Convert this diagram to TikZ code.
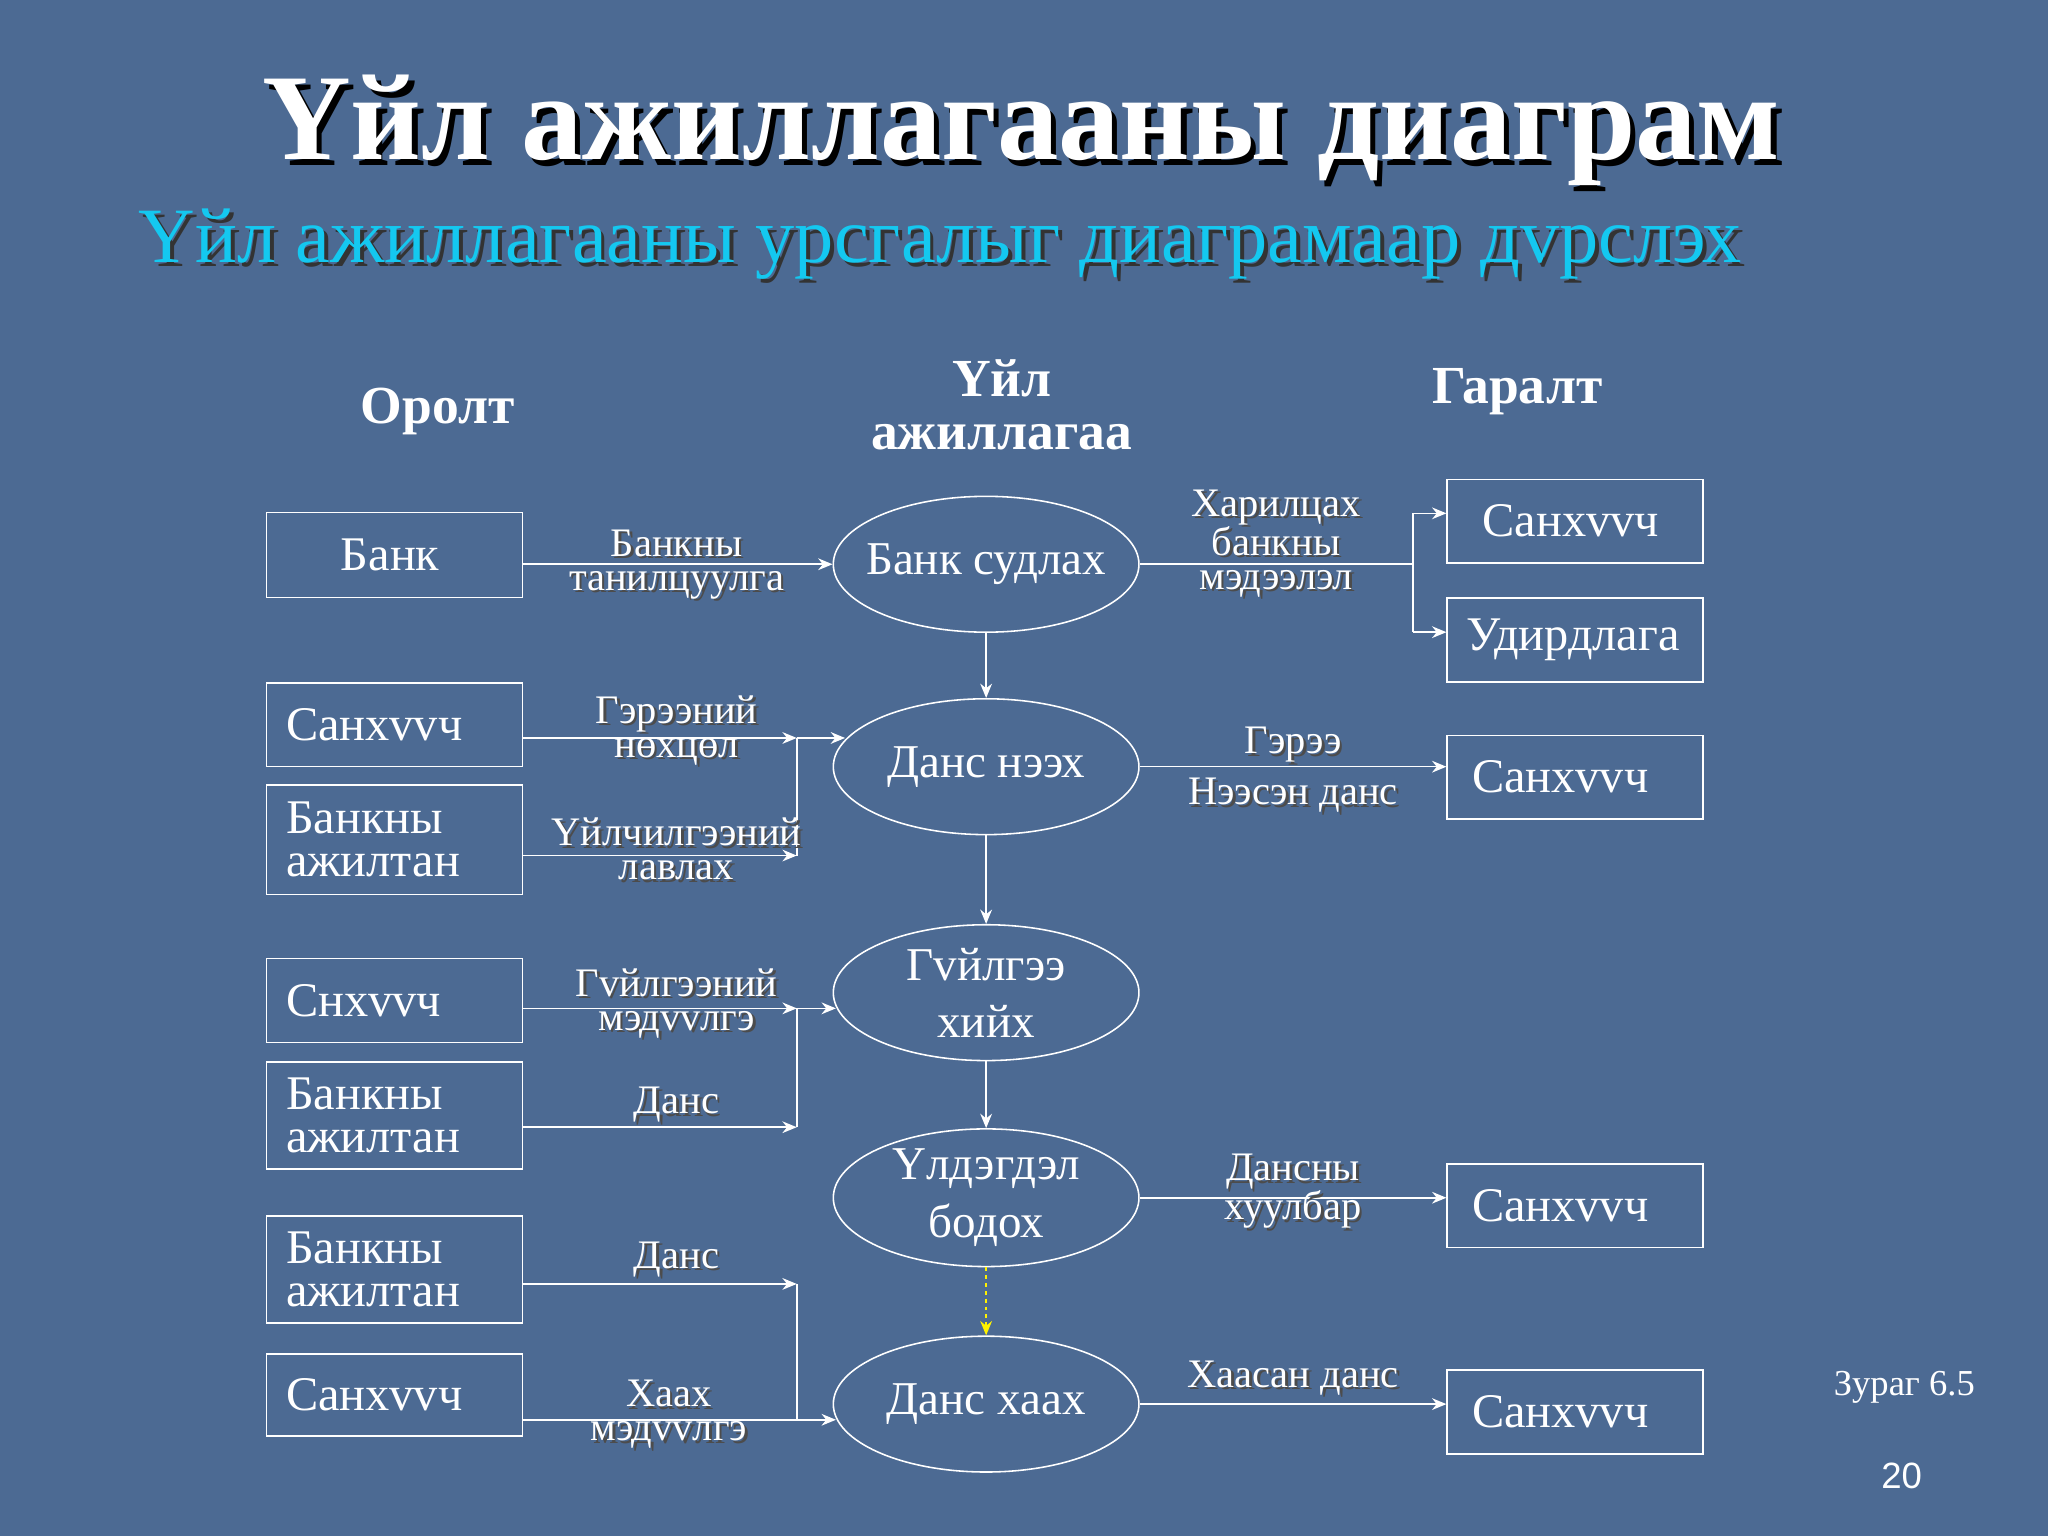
\documentclass[tikz,border=0pt]{standalone}
\usepackage{fontspec}
\setmainfont{Liberation Serif}
\newfontfamily\sansf{Liberation Sans}
\usetikzlibrary{shapes.geometric,calc,arrows.meta}
\newcommand{\lbl}[4][]{%
  \node[align=center,font=\fontsize{31}{26}\selectfont,text=black!70,#1] at ($(#2)+(2,2)$) {#3};
  \node[align=center,font=\fontsize{31}{26}\selectfont,text=white,#1] (#4) at (#2) {#3};}
\begin{document}
\begin{tikzpicture}[x=1pt,y=-1pt,
  box/.style={draw=white,line width=1.2pt,minimum width=196pt,minimum height=64pt,text=white,font=\fontsize{37}{33}\selectfont,align=left,text width=166pt,inner xsep=15pt},
  ell/.style={ellipse,draw=white,line width=1.2pt,minimum width=234pt,minimum height=104pt,text=white,font=\fontsize{36}{44}\selectfont,align=center,inner sep=0pt},
  ln/.style={draw=white,line width=1.2pt},
  arr/.style={ln,-{Stealth[length=11pt,width=9pt]}},
  hdr/.style={text=white,font=\bfseries\fontsize{41}{40}\selectfont,align=center}]
\fill[fill={rgb,255:red,76;green,106;blue,147}] (0,0) rectangle (1568,1176);
\useasboundingbox (0,0) rectangle (1568,1176);
% title
\node[font=\bfseries\fontsize{94}{94}\selectfont,text=black] at (786,104) {Үйл ажиллагааны диаграм};
\node[font=\bfseries\fontsize{94}{94}\selectfont,text=white] (title) at (782,100) {Үйл ажиллагааны диаграм};
\node[font=\fontsize{60}{60}\selectfont,text=black!80] at (723,190) {Үйл ажиллагааны урсгалыг диаграмаар дvрслэх};
\node[font=\fontsize{60}{60}\selectfont,text={rgb,255:red,20;green,200;blue,240}] (sub) at (720,187) {Үйл ажиллагааны урсгалыг диаграмаар дvрслэх};
% headers
\node[hdr] (h1) at (335,315) {Оролт};
\node[hdr] (h2) at (767,310) {Үйл\\ажиллагаа};
\node[hdr] (h3) at (1162,300) {Гаралт};
% left boxes
\node[box,minimum height=65pt] (b1) at (302,425) {\hspace*{42pt}Банк};
\node[box] (b2) at (302,555) {Санхvvч};
\node[box,minimum height=84pt] (b3) at (302,643) {Банкны\\ажилтан};
\node[box] (b4) at (302,766) {Снхvvч};
\node[box,minimum height=82pt] (b5) at (302,854) {Банкны\\ажилтан};
\node[box,minimum height=82pt] (b6) at (302,972) {Банкны\\ажилтан};
\node[box,minimum height=63pt] (b7) at (302,1068) {Санхvvч};
% ellipses
\node[ell,inner xsep=-14pt] (e1) at (755,432) {Банк судлах};
\node[ell] (e2) at (755,587) {Данс нээх};
\node[ell] (e3) at (755,760) {Гvйлгээ\\хийх};
\node[ell] (e4) at (755,917) {Үлдэгдэл\\бодох};
\node[ell] (e5) at (755,1075) {Данс хаах};
% right boxes
\node[box] (r1) at (1206,399) {\hspace*{12pt}Санхvvч};
\node[box,inner xsep=8pt] (r2) at (1206,490) {Удирдлага};
\node[box] (r3) at (1206,595) {\hspace*{4pt}Санхvvч};
\node[box] (r4) at (1206,923) {\hspace*{4pt}Санхvvч};
\node[box] (r5) at (1206,1081) {\hspace*{4pt}Санхvvч};
% vertical flow
\draw[arr] (e1) -- (e2);
\draw[arr] (e2) -- (e3);
\draw[arr] (e3) -- (e4);
\draw[ln,dashed,draw=yellow,-{Stealth[length=11pt,width=9pt]}] (e4) -- (e5);
% inputs
\draw[arr] (b1.east|-e1) -- (e1.west);
\lbl{518,432}{Банкны\\танилцуулга}{l1}
\coordinate (j1) at (610,565);
\coordinate (j2) at (610,655);
\draw[arr] (b2.east|-j1) -- (j1);
\draw[arr] (b3.east|-j2) -- (j2);
\draw[ln] (j1) -- (j2);
\draw[arr] (j1) -- ($(e2.center)+(-108,-22)$);
\lbl{518,559}{Гэрээний\\нөхцөл}{l2}
\lbl{518,650}{Үйлчилгээний\\лавлах}{l3}
\coordinate (j3) at (610,772);
\coordinate (j4) at (610,863);
\draw[arr] (b4.east|-j3) -- (j3);
\draw[arr] (b5.east|-j4) -- (j4);
\draw[ln] (j3) -- (j4);
\draw[arr] (j3) -- ($(e3.center)+(-115,12)$);
\lbl{518,768}{Гvйлгээний\\мэдvvлгэ}{l4}
\lbl{518,846}{Данс}{l5}
\coordinate (j5) at (610,983);
\coordinate (j6) at (610,1087);
\draw[arr] (b6.east|-j5) -- (j5);
\draw[ln] (j5) -- (j6);
\draw[arr] (b7.east|-j6) -- ($(e5.center)+(-115,12)$);
\lbl{518,964}{Данс}{l6}
\lbl{512,1083}{Хаах\\мэдvvлгэ}{l7}
% outputs
\coordinate (k1) at (1082,432);
\draw[ln] (e1.east) -- (k1);
\draw[ln] (1082,393) -- (1082,484);
\draw[arr] (1082,393) -- (r1.west|-0,393);
\draw[arr] (1082,484) -- (r2.west|-0,484);
\lbl{977,416}{Харилцах\\банкны\\мэдээлэл}{l8}
\draw[arr] (e2.east) -- (r3.west|-e2);
\lbl{990,570}{Гэрээ}{l9}
\lbl{990,609}{Нээсэн данс}{l10}
\draw[arr] (e4.east) -- (r4.west|-e4);
\lbl{990,912}{Дансны\\хуулбар}{l11}
\draw[arr] (e5.east) -- (r5.west|-e5);
\lbl{990,1055}{Хаасан данс}{l12}
% footer
\node[text=white,font=\fontsize{28}{28}\selectfont] (fig) at (1458,1062) {Зураг 6.5};
\node[text=white,font=\sansf\fontsize{28}{28}\selectfont] (pg) at (1456,1130) {20};
\end{tikzpicture}
\end{document}
